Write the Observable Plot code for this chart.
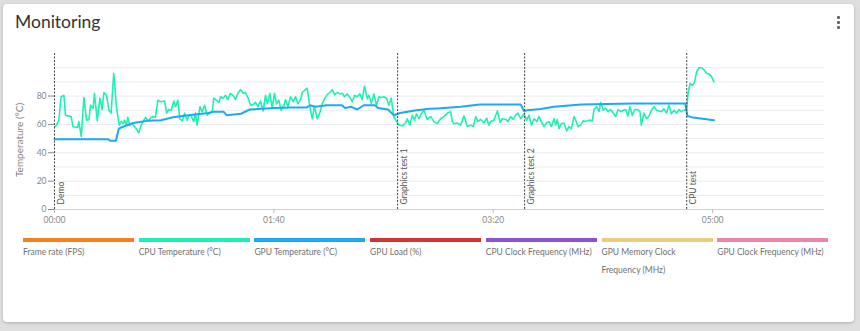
<!DOCTYPE html>
<html>
<head>
<meta charset="utf-8">
<script src="https://cdn.jsdelivr.net/npm/d3@7"></script>
<script src="https://cdn.jsdelivr.net/npm/@observablehq/plot@0.6"></script>
<style>
  html, body { margin: 0; padding: 0; }
  body { width: 860px; height: 331px; background: #dedede; position: relative; overflow: hidden; font-family: Lato, "Open Sans", sans-serif; }
  #card { position: absolute; left: 3px; top: 4px; width: 851px; height: 318px; background: #fff; border-radius: 4px; box-shadow: 0 1px 3px rgba(0,0,0,0.22); }
  #title { position: absolute; left: 15px; top: 11px; font-size: 17.5px; color: #333; font-family: Lato, sans-serif; }
  .dot { position: absolute; left: 837px; width: 3px; height: 3px; background: #666; border-radius: 1px; }
  #chart { position: absolute; left: 0; top: 40px; }
  #ylabel { position: absolute; left: 19px; top: 140px; transform: translate(-50%, -50%) rotate(-90deg); font-size: 10px; color: #808080; white-space: nowrap; }
  .leg { position: absolute; top: 238px; width: 111px; }
  .leg .bar { height: 4px; }
  .leg .lab { margin-top: 1px; font-size: 8.5px; line-height: 18px; color: #707070; }
</style>
</head>
<body>
<div id="card"></div>
<div id="title">Monitoring</div>
<div class="dot" style="top:16px"></div>
<div class="dot" style="top:21px"></div>
<div class="dot" style="top:26px"></div>
<div id="chart"></div>
<div id="ylabel">Temperature (°C)</div>
<div id="legend"></div>
<script>
// ---- data (seconds, °C) ----
const cpuTime = [0,0.9,2,3,4.3,5,6.5,7.6,8.4,9.6,10.6,11.1,12.2,13.4,14.6,15.7,16.4,17.6,18.2,19.5,20.7,21.7,22.5,23.7,24.8,25.8,27,28.3,29.5,30.4,31.3,31.9,32.8,33.4,34.3,35.4,36.5,37.7,38.4,39.5,40.4,41.5,42.6,43.5,44.5,46,47.1,48.3,50.2,51.1,52.1,53.2,54.4,55.2,56.2,57.1,58.2,59.3,60.5,61.2,62.3,63.5,64.3,65,66.3,67.3,68.4,69.6,70.8,71.9,72.6,73.9,74.9,75.7,76.9,78,79,80.2,81.5,82.5,83.6,84.8,86,87.1,88.1,89.4,90.6,91.6,92.7,93.9,95.1,96.2,97,98.2,99.2,100.3,101.2,102.3,103.3,104.6,105.3,106.4,107.6,108.8,109.9,110.9,112.2,112.9,114,115.2,116.4,117.5,118.5,119.8,121,122,123.1,124.3,125.5,126.6,127.7,128.9,130.1,131.2,132.2,133.4,134.7,135.7,136.8,138,139.2,140.3,141.3,142.6,143.3,144.4,145.6,146.8,147.9,148.9,150.2,151.4,152.4,153.5,154.7,155.9,157,158.5,160,160.8,162,163.1,164.1,165,166.1,167.2,168.4,169.9,171.5,173,174.5,176,177.5,179.1,180.6,181.3,182.1,183.6,185.1,186.7,188.2,189.7,190.9,192,193,194.3,195.8,197,198,198.8,200.3,201.9,203.1,204.1,205.7,206.7,207.9,209.1,210.2,211.3,212.5,214,215.2,216.3,217.4,218.6,219.8,220.9,221.9,223.1,224.3,225.4,226.5,227.7,228.5,229.2,230,231,232.2,233.5,234.5,235.6,236.8,237.6,238.6,239.8,241,242.1,243.6,245.2,245.9,247.1,248.2,249,250.2,251.2,252.3,253.5,254.7,255.8,256.9,258.1,259.3,260.4,261.4,262.3,263.4,264.5,265.7,266.9,267.5,268.7,269.9,271,272.1,273.3,274.5,275.6,276.6,277.8,279,280.1,281.2,282.4,283.6,284.7,285.7,287,288.2,288.8,289.7,290.8,291.8,292.7,293.8,294.9,296.1,297.3,298.4,299.4,300.6];
const cpuTemp = [58,59.5,63,79.5,80.5,66.5,66,65.5,58.5,58,58,62,51.5,79,63,63.5,73.5,71.5,82,62.5,78.5,70.5,82.5,80.5,70,68,96,71.5,59.5,62,60.5,63,59.5,65,59.5,60.5,58.5,56,54,59.5,62,65,62.5,64,65.5,65,77,76,76.5,68,70.5,70,76.5,72.5,77,64,62.5,68,63,66.5,66,62,68,59.5,72.5,69,73.5,66.5,68,69,78.5,77,75.5,79.5,78.5,80.5,77.5,82,80,77.5,82,84.5,82,82.5,79,73.5,74,75.5,72.5,76.5,69.5,80.5,74.5,82,71.5,82,74.5,77,70,73.5,77.5,72.5,79.5,76,79.5,74.5,77.5,82.5,84,85.5,72.5,64,72.5,64,68.5,74.5,78,81,82.5,84.5,81,82.5,81.5,82,79.5,81.5,79,76,80.5,79.5,81.5,77.5,87,78,80.5,75,81.5,73.5,79.5,79,79.5,78.5,73.5,78.5,65.5,62,59.5,59,61,64,59.5,66.5,63,67.5,64,67.5,70,63.5,65.5,62,60.5,64,65.5,68,69,62,60.5,61,59.5,66,58.5,59.5,58.5,65.5,62,63.5,61,64.5,59.5,62,63,69.5,61.5,64,63.5,62,65.5,63.5,66.5,68,64,67.5,63,66.5,59.5,64,62,65.5,62,58.5,61,62,58.5,64,59.5,63.5,57,60.5,61,55.5,58.5,57,65.5,63,58.5,59.5,62.5,62,63,62.5,70.5,72.5,69,75.5,70,71.5,69,70.5,68,65.5,70.5,69,70,70.5,66,72.5,66.5,70.5,70.5,69,59.5,68,64,66,70,72.5,70,69.5,69,71,68,73.5,67.5,70,68,70.5,69,70,71,82,89,87.5,90,97,100,100,98.5,96,95.5,94,90];
const gpuTime = [0,24.5,25.5,28,29.3,31.5,36,42,48.5,54,61,70,73,77,78.5,85,89,100,108,115,116.5,119,124,131,132.5,135,138,141,146,147.5,152,154.7,157.5,165,171,174.5,185,194,212.5,214,215.5,221.6,227.7,240,264,287.5,288.5,291,294.5,300.6];
const gpuTemp = [49.5,49.5,48.5,48.5,57,58.5,61,62.5,63,65,66.5,68,69,69,66.5,67.5,70.5,71.5,72,72,73.5,72.5,73.5,73.5,71.5,72.5,70.5,73.5,73.5,71.5,70.5,66.5,68,70,71,71.3,72.5,74,74,69.5,70,70.8,72.5,74,74.8,74.8,66,64.8,64.2,63];
const markerTime = [0, 156.4, 214.3, 288.2];
const markerLabel = ["Demo", "Graphics test 1", "Graphics test 2", "CPU test"];
const xTickValues = [0, 100, 200, 300];
const xTickLabels = ["00:00", "01:40", "03:20", "05:00"];
const yTickValues = [0, 20, 40, 60, 80];
const yGridValues = [10, 20, 30, 40, 50, 60, 70, 80, 90, 100];
const legendLabels = ["Frame rate (FPS)", "CPU Temperature (°C)", "GPU Temperature (°C)", "GPU Load (%)", "CPU Clock Frequency (MHz)", "GPU Memory Clock Frequency (MHz)", "GPU Clock Frequency (MHz)"];
const legendColors = ["#f5821f", "#1ef0b5", "#1ea9f5", "#d63333", "#8e52d0", "#ebcd80", "#ec86ac"];

const cpu = cpuTime.map((t, i) => ({t, v: cpuTemp[i]}));
const gpu = gpuTime.map((t, i) => ({t, v: gpuTemp[i]}));
const markers = markerTime.map((t, i) => ({t, label: markerLabel[i]}));

const chart = Plot.plot({
  width: 840,
  height: 190,
  marginTop: 13,
  marginBottom: 21,
  marginLeft: 54,
  marginRight: 16,
  style: {fontFamily: "Lato, 'Open Sans', sans-serif", fontSize: "8.5px", color: "#888", background: "transparent", overflow: "visible"},
  x: {domain: [0, 351]},
  y: {domain: [0, 110]},
  marks: [
    Plot.gridY(yGridValues, {stroke: "#ebebeb", strokeOpacity: 1}),
    Plot.ruleY([0], {stroke: "#d0d0d0"}),
    Plot.axisX({ticks: xTickValues, tickFormat: (d, i) => xTickLabels[i], tickSize: 4, tickPadding: 3, stroke: "#bbb", fill: "#888", label: null}),
    Plot.axisY({ticks: yTickValues, tickSize: 6, tickPadding: 2, stroke: "#888", fill: "#888", label: null}),
    Plot.line(cpu, {x: "t", y: "v", stroke: legendColors[1], strokeWidth: 1.6}),
    Plot.line(gpu, {x: "t", y: "v", stroke: legendColors[2], strokeWidth: 2}),
    Plot.ruleX(markers, {x: "t", stroke: "#444", strokeWidth: 1, strokeDasharray: "2,1.5"}),
    Plot.text(markers, {x: "t", y: 0, text: "label", rotate: -90, textAnchor: "start", lineAnchor: "top", dx: 3, dy: -5, fill: "#555", fontSize: 8.5})
  ]
});
document.getElementById("chart").appendChild(chart);

const legend = document.getElementById("legend");
legendLabels.forEach((lab, i) => {
  const d = document.createElement("div");
  d.className = "leg";
  d.style.left = (23 + i * 115.7) + "px";
  d.innerHTML = `<div class="bar" style="background:${legendColors[i]}"></div><div class="lab">${lab}</div>`;
  legend.appendChild(d);
});
</script>
</body>
</html>
